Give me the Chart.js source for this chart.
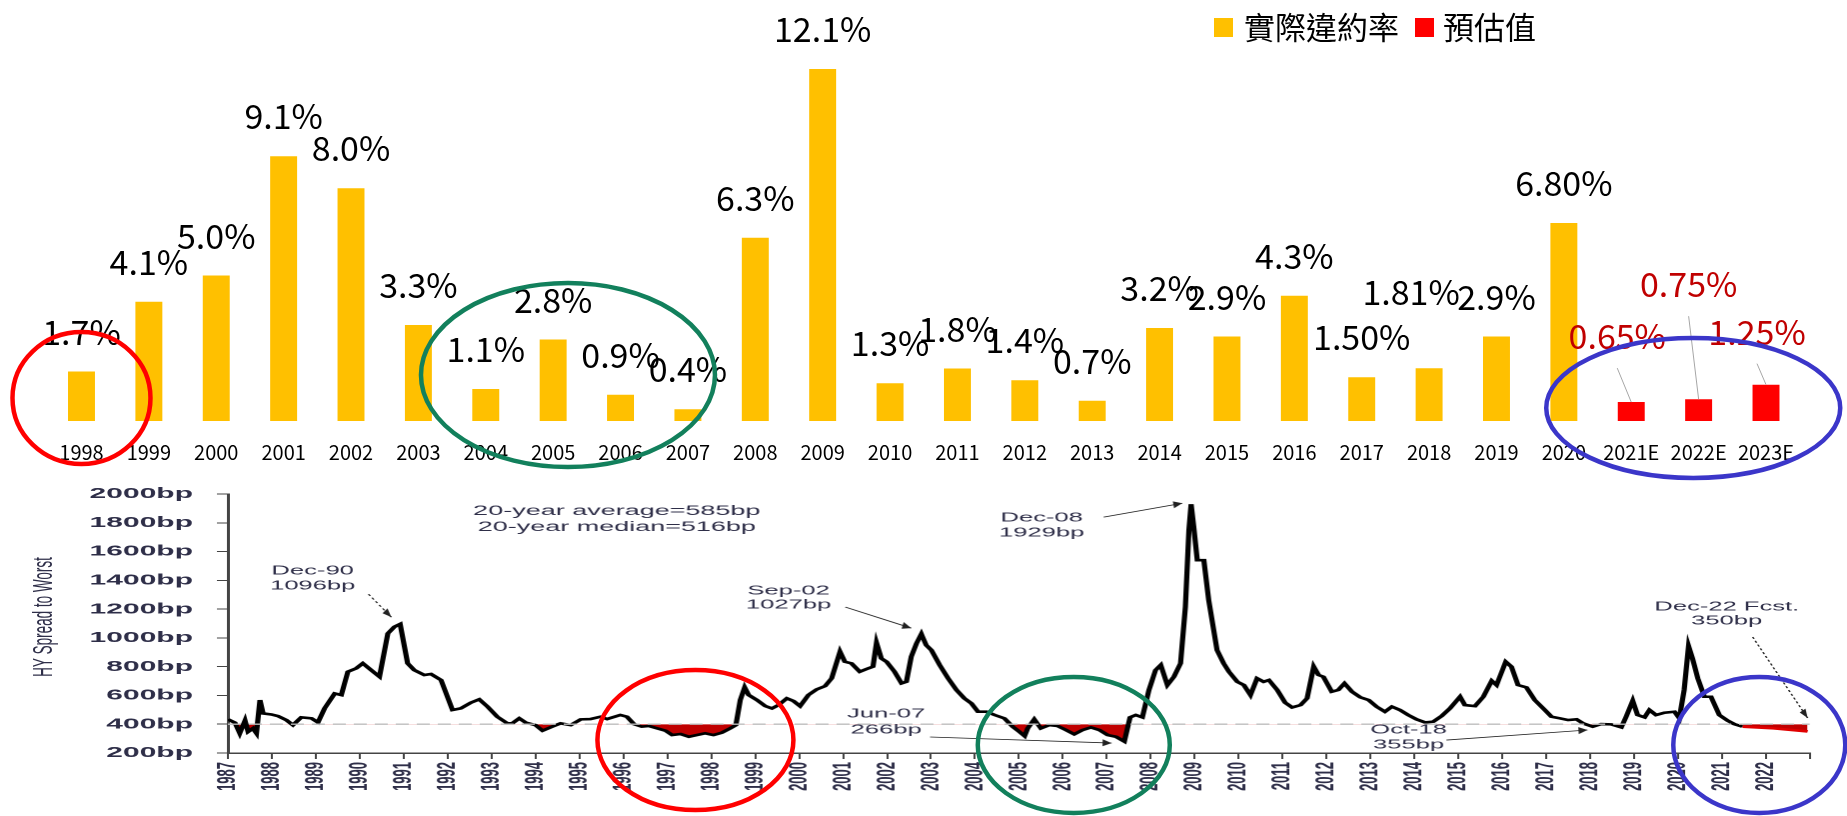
<!DOCTYPE html>
<html>
<head>
<meta charset="utf-8">
<script src="https://cdn.jsdelivr.net/npm/chart.js@4.4.1/dist/chart.umd.min.js"></script>
<style>
  html, body { margin: 0; padding: 0; background: #fff; }
  #page { position: relative; width: 1847px; height: 816px; overflow: hidden; background: #fff; }
  #barBox { position: absolute; left: 0; top: 0; }
  #spreadBox { position: absolute; left: 0; top: 470px; width: 924px; height: 346px; transform: scaleX(1.998918); transform-origin: 0 0; }
  #overlay { position: absolute; left: 0; top: 0; pointer-events: none; }
  .sw { position: absolute; top: 18px; width: 19px; height: 19px; }
  .lt { position: absolute; top: 10px; font: 31px/31px "Noto Sans CJK TC", sans-serif; color: #000; white-space: nowrap; }
</style>
</head>
<body>
<div id="page">
  <div id="barBox"><canvas id="barChart" width="1847" height="470"></canvas></div>
  <div id="spreadBox"><canvas id="spreadChart" width="924" height="346" style="width:924px;height:346px"></canvas></div>
  <span class="sw" style="left:1214px;background:#FFC000"></span><span class="lt" style="left:1244px">實際違約率</span>
  <span class="sw" style="left:1415px;background:#FF0000"></span><span class="lt" style="left:1443px">預估值</span>
  <canvas id="overlay" width="1847" height="816"></canvas>
</div>
<script>
// ═══ DATA: default rate bars ═══
const years = ['1998','1999','2000','2001','2002','2003','2004','2005','2006','2007','2008','2009','2010',
  '2011','2012','2013','2014','2015','2016','2017','2018','2019','2020','2021E','2022E','2023E'];
const defaultRate = [1.7,4.1,5.0,9.1,8.0,3.3,1.1,2.8,0.9,0.4,6.3,12.1,1.3,
  1.8,1.4,0.7,3.2,2.9,4.3,1.5,1.81,2.9,6.8,0.65,0.75,1.25];
const rateLabels = ['1.7%','4.1%','5.0%','9.1%','8.0%','3.3%','1.1%','2.8%','0.9%','0.4%','6.3%','12.1%','1.3%',
  '1.8%','1.4%','0.7%','3.2%','2.9%','4.3%','1.50%','1.81%','2.9%','6.80%','0.65%','0.75%','1.25%'];
const isForecast = years.map(y => y.endsWith('E'));

// ═══ DATA: HY spread to worst (bp) ═══
const spreadDates = [
  1987.00,1987.16,1987.27,1987.39,1987.46,1987.57,1987.65,1987.73,1987.80,1987.99,
  1988.14,1988.33,1988.48,1988.67,1988.90,1989.05,1989.20,1989.43,1989.58,1989.73,
  1989.92,1990.07,1990.26,1990.45,1990.64,1990.79,1990.92,1991.09,1991.24,1991.47,
  1991.62,1991.85,1992.11,1992.30,1992.53,1992.72,1992.91,1993.13,1993.36,1993.47,
  1993.63,1993.78,1994.00,1994.16,1994.38,1994.57,1994.80,1995.03,1995.25,1995.48,
  1995.63,1995.93,1996.08,1996.24,1996.42,1996.58,1996.77,1996.96,1997.11,1997.30,
  1997.49,1997.67,1997.86,1998.05,1998.24,1998.43,1998.56,1998.66,1998.76,1998.85,
  1999.04,1999.23,1999.38,1999.53,1999.72,1999.87,2000.02,2000.21,2000.40,2000.59,
  2000.74,2000.93,2001.04,2001.19,2001.38,2001.57,2001.68,2001.76,2001.87,2001.99,
  2002.17,2002.33,2002.44,2002.55,2002.67,2002.78,2002.89,2003.01,2003.20,2003.39,
  2003.58,2003.76,2003.92,2004.07,2004.26,2004.45,2004.67,2004.86,2005.01,2005.13,
  2005.20,2005.35,2005.50,2005.69,2005.88,2006.07,2006.26,2006.45,2006.64,2006.83,
  2007.02,2007.21,2007.40,2007.53,2007.66,2007.81,2007.96,2008.11,2008.23,2008.38,
  2008.53,2008.68,2008.79,2008.87,2008.92,2008.98,2009.06,2009.21,2009.32,2009.51,
  2009.66,2009.78,2009.97,2010.12,2010.27,2010.42,2010.57,2010.69,2010.88,2011.06,
  2011.22,2011.41,2011.56,2011.71,2011.82,2011.93,2012.12,2012.27,2012.41,2012.58,
  2012.77,2012.96,2013.14,2013.33,2013.49,2013.67,2013.86,2014.05,2014.24,2014.43,
  2014.62,2014.81,2015.04,2015.15,2015.38,2015.57,2015.76,2015.87,2016.08,2016.21,
  2016.36,2016.55,2016.74,2016.97,2017.12,2017.31,2017.50,2017.69,2017.84,2018.06,
  2018.25,2018.48,2018.71,2018.82,2018.97,2019.08,2019.24,2019.35,2019.50,2019.69,
  2019.92,2020.03,2020.14,2020.24,2020.33,2020.45,2020.60,2020.75,2020.94,2021.13,
  2021.28,2021.47,2022.18,2022.95];
const spreadBp = [
  434,411,337,425,348,371,337,568,475,468,
  457,429,394,448,441,413,510,614,603,765,
  788,823,776,730,1031,1077,1096,823,776,742,
  749,707,499,510,550,573,522,452,406,406,
  441,411,394,355,383,406,394,434,436,452,
  436,464,452,401,383,388,371,355,325,332,
  313,325,337,325,341,371,394,568,656,603,
  568,526,510,533,580,561,526,603,642,665,
  719,904,834,823,765,788,800,966,857,834,
  765,684,695,869,962,1027,950,915,811,719,
  638,580,545,487,487,464,441,383,348,318,
  371,434,371,394,388,360,330,360,378,360,
  325,313,280,448,464,448,638,776,811,672,
  730,823,1216,1749,1929,1772,1540,1540,1263,915,
  823,765,695,672,603,719,695,707,638,550,
  517,533,580,800,742,730,626,638,684,626,
  587,568,522,487,522,499,464,434,413,418,
  457,510,591,533,526,591,702,672,834,800,
  672,656,568,499,452,441,429,434,406,383,
  401,399,378,452,563,464,448,499,464,480,
  487,441,638,943,857,719,591,591,464,425,
  401,383,371,350];
const forecastFrom = 2021.47;
const refLevel = 400;
const spreadYearMin = 1987, spreadYearMax = 2023;

// ═══ STYLE / LAYOUT ═══
const SX = 1847 / 924;               // horizontal stretch of the lower picture
const YELLOW = '#FFC000', RED = '#FF0000', DARKRED = '#C00000', INK = '#2e2e48';
const labelShift = { '2018': [-18, -63], '2021E': [-14, -53], '2022E': [-10, -102], '2023E': [-9, -40] };

// value labels above the bars (+ leader lines for estimates)
const barLabels = {
  id: 'barLabels',
  afterDatasetsDraw(chart) {
    const ctx = chart.ctx;
    ctx.save();
    ctx.font = '34px "Noto Sans CJK TC"';
    ctx.textAlign = 'center';
    ctx.textBaseline = 'alphabetic';
    chart.getDatasetMeta(0).data.forEach((bar, i) => {
      const [dx, dy] = labelShift[years[i]] || [0, -27];
      const tx = bar.x + dx, ty = bar.y + dy;
      if (isForecast[i]) {
        ctx.strokeStyle = '#A6A6A6'; ctx.lineWidth = 1;
        ctx.beginPath(); ctx.moveTo(tx, ty + 19); ctx.lineTo(bar.x, bar.y); ctx.stroke();
      }
      ctx.fillStyle = isForecast[i] ? DARKRED : '#000';
      ctx.fillText(rateLabels[i], tx, ty);
    });
    ctx.restore();
  }
};

const barChart = new Chart(document.getElementById('barChart'), {
  type: 'bar',
  data: {
    labels: years,
    datasets: [{
      data: defaultRate,
      backgroundColor: isForecast.map(f => f ? RED : YELLOW),
      categoryPercentage: 1, barPercentage: 0.4
    }]
  },
  options: {
    responsive: false, animation: false, devicePixelRatio: 1,
    layout: { padding: { left: 47.8, right: 47.3, top: 13.6, bottom: 0 } },
    plugins: { legend: { display: false }, tooltip: { enabled: false } },
    scales: {
      x: {
        grid: { display: false, drawTicks: false }, border: { display: false },
        ticks: { color: '#000', padding: 19, font: { family: 'Noto Sans CJK TC', size: 20 }, autoSkip: false, maxRotation: 0 },
        afterFit: s => { s.height = 49; }
      },
      y: { display: false, min: 0, max: 14 }
    }
  },
  plugins: [barLabels]
});

// ═══ LOWER CHART annotations ═══
const notes = [
  { t: ['20-year average=585bp', '20-year median=516bp'], x: 1995.85, y: [1880, 1769], size: 13.5 },
  { t: ['Dec-90', '1096bp'], x: 1988.93, y: [1464, 1360] },
  { t: ['Sep-02', '1027bp'], x: 1999.76, y: [1325, 1228] },
  { t: ['Dec-08', '1929bp'], x: 2005.52, y: [1832, 1728] },
  { t: ['Jun-07', '266bp'], x: 2001.98, y: [471, 360] },
  { t: ['Oct-18', '355bp'], x: 2013.87, y: [360, 256] },
  { t: ['Dec-22 Fcst.', '350bp'], x: 2021.11, y: [1214, 1117] }
];
const arrows = [
  { from: [1990.20, 1304], to: [1990.72, 1144], dash: [2, 2] },
  { from: [2001.05, 1214], to: [2002.55, 1068] },
  { from: [2006.93, 1839], to: [2008.72, 1936] },
  { from: [2002.98, 311], to: [2007.11, 269] },
  { from: [2014.73, 290], to: [2017.94, 360] },
  { from: [2021.70, 1006], to: [2022.95, 443], dash: [2, 2] }
];

const spreadNotes = {
  id: 'spreadNotes',
  afterDraw(chart) {
    const { ctx, scales: { x, y }, chartArea } = chart;
    ctx.save();
    ctx.fillStyle = INK;
    ctx.textAlign = 'center';
    ctx.textBaseline = 'middle';
    notes.forEach(n => {
      ctx.font = (n.size || 12.8) + 'px "Liberation Sans"';
      n.t.forEach((line, k) => ctx.fillText(line, x.getPixelForValue(n.x), y.getPixelForValue(n.y[k])));
    });
    arrows.forEach(a => {
      const x0 = x.getPixelForValue(a.from[0]), y0 = y.getPixelForValue(a.from[1]);
      const x1 = x.getPixelForValue(a.to[0]), y1 = y.getPixelForValue(a.to[1]);
      ctx.strokeStyle = '#222'; ctx.lineWidth = 0.8;
      ctx.setLineDash(a.dash || []);
      ctx.beginPath(); ctx.moveTo(x0, y0); ctx.lineTo(x1, y1); ctx.stroke();
      ctx.setLineDash([]);
      // head computed in displayed (unstretched) space
      const ang = Math.atan2(y1 - y0, (x1 - x0) * SX);
      const L = 9, W = 3.5;
      const bx = x1 * SX - L * Math.cos(ang), by = y1 - L * Math.sin(ang);
      ctx.fillStyle = '#222';
      ctx.beginPath();
      ctx.moveTo(x1, y1);
      ctx.lineTo((bx - W * Math.sin(ang)) / SX, by + W * Math.cos(ang));
      ctx.lineTo((bx + W * Math.sin(ang)) / SX, by - W * Math.cos(ang));
      ctx.closePath(); ctx.fill();
      ctx.fillStyle = INK;
    });
    // axis title
    ctx.translate(chartArea.left - 91.5, 147);
    ctx.rotate(-Math.PI / 2);
    ctx.font = '13.5px "Liberation Sans"';
    ctx.fillText('HY Spread to Worst', 0, 0);
    ctx.restore();
  }
};

const spreadChart = new Chart(document.getElementById('spreadChart'), {
  type: 'line',
  data: {
    datasets: [
      {
        data: [{ x: spreadYearMin, y: refLevel }, { x: spreadYearMax, y: refLevel }],
        borderColor: '#BDBDBD', borderWidth: 1.4, borderDash: [6.5, 4], pointRadius: 0, fill: false
      },
      {
        data: spreadDates.map((d, i) => ({ x: d, y: spreadBp[i] })),
        borderColor: '#000', borderWidth: 2.6, pointRadius: 0, tension: 0,
        fill: { target: { value: refLevel }, above: 'rgba(0,0,0,0)', below: DARKRED },
        segment: { borderColor: c => c.p0.parsed.x >= forecastFrom ? '#E00000' : undefined }
      }
    ]
  },
  options: {
    responsive: false, animation: false, devicePixelRatio: 2,
    layout: { padding: { left: 0, right: 16.5, top: 24, bottom: 0 } },
    plugins: { legend: { display: false }, tooltip: { enabled: false } },
    scales: {
      x: {
        type: 'linear', min: spreadYearMin, max: spreadYearMax,
        ticks: {
          stepSize: 1, autoSkip: false, minRotation: 90, maxRotation: 90, padding: 3, color: INK,
          font: { family: 'Liberation Sans', size: 13, weight: 'bold' },
          callback: v => v < spreadYearMax ? String(v) : ''
        },
        grid: { drawOnChartArea: false, tickLength: 6, color: '#444' },
        border: { color: '#444', width: 1.5 },
        afterFit: s => { s.height = 63; }
      },
      y: {
        min: 200, max: 2000,
        ticks: { stepSize: 200, padding: 12, color: INK, font: { family: 'Liberation Sans', size: 15, weight: 'bold' }, callback: v => v + 'bp' },
        grid: { drawOnChartArea: false, tickLength: 5.5, color: '#444' },
        border: { color: '#444', width: 1.5 },
        afterFit: s => { s.width = 114; }
      }
    }
  },
  plugins: [spreadNotes]
});

// ═══ HIGHLIGHT RINGS (drawn over both charts) ═══
const rings = [
  { on: 'bar', at: [0, 0.79], r: [69, 66], color: '#FF0000' },
  { on: 'bar', at: [7.22, 1.58], r: [147, 92], color: '#12805C' },
  { on: 'bar', at: [23.92, 0.45], r: [147, 70], color: '#3B36C9' },
  { on: 'spread', at: [1997.64, 290], r: [98, 70], color: '#FF0000' },
  { on: 'spread', at: [2006.25, 256], r: [96, 68], color: '#12805C' },
  { on: 'spread', at: [2021.85, 256], r: [86, 68], color: '#3B36C9' }
];

function drawRings() {
  const ctx = document.getElementById('overlay').getContext('2d');
  ctx.clearRect(0, 0, 1847, 816);
  ctx.lineWidth = 4.5;
  rings.forEach(g => {
    let cx, cy;
    if (g.on === 'bar') {
      cx = barChart.scales.x.getPixelForValue(g.at[0]);
      cy = barChart.scales.y.getPixelForValue(g.at[1]);
    } else {
      cx = spreadChart.scales.x.getPixelForValue(g.at[0]) * SX;
      cy = 470 + spreadChart.scales.y.getPixelForValue(g.at[1]);
    }
    ctx.strokeStyle = g.color;
    ctx.beginPath();
    ctx.ellipse(cx, cy, g.r[0], g.r[1], 0, 0, Math.PI * 2);
    ctx.stroke();
  });
}
drawRings();
</script>
</body>
</html>
